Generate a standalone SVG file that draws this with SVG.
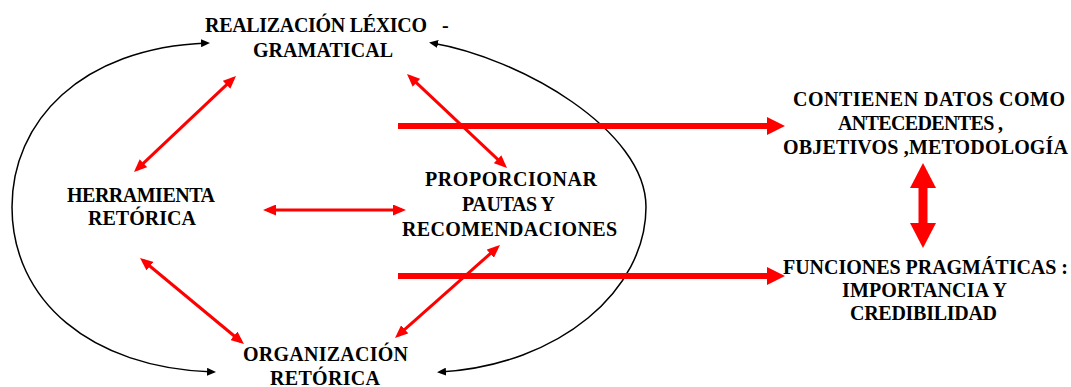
<svg xmlns="http://www.w3.org/2000/svg" width="1071" height="387" viewBox="0 0 1071 387">
<style>
text{font-family:"Liberation Serif","Times New Roman",serif;font-weight:bold;font-size:20px;fill:#000}
.m{text-anchor:middle}
.arc{fill:none;stroke:#000;stroke-width:1.5}
.red{fill:none;stroke:#ff0000;stroke-width:3}
.thick{fill:none;stroke:#ff0000;stroke-width:6}
.vert{fill:none;stroke:#ff0000;stroke-width:9}
</style>
<defs>
<marker id="bk" viewBox="0 0 9 8" refX="6" refY="4" markerWidth="9" markerHeight="8" markerUnits="userSpaceOnUse" orient="auto-start-reverse"><path d="M0,0 L9,4 L0,8 z" fill="#000"/></marker>
<marker id="rd" viewBox="0 0 13 11" refX="9" refY="5.5" markerWidth="13" markerHeight="11" markerUnits="userSpaceOnUse" orient="auto-start-reverse"><path d="M0,0 L13,5.5 L0,11 z" fill="#ff0000"/></marker>
<marker id="rt" viewBox="0 0 18 18" refX="10" refY="9" markerWidth="18" markerHeight="18" markerUnits="userSpaceOnUse" orient="auto-start-reverse"><path d="M0,0 L18,9 L0,18 z" fill="#ff0000"/></marker>
<marker id="rv" viewBox="0 0 25 26" refX="15" refY="13" markerWidth="25" markerHeight="26" markerUnits="userSpaceOnUse" orient="auto-start-reverse"><path d="M0,0 L25,13 L0,26 z" fill="#ff0000"/></marker>
</defs>
<g id="connectors">
<path class="arc" d="M207,43 C80,48 12,122 12,207 C12,300 90,368 213,372" marker-start="url(#bk)" marker-end="url(#bk)"/>
<path class="arc" d="M432,43 C520,58 646,130 646,207 C646,290 560,365 440,372" marker-start="url(#bk)" marker-end="url(#bk)"/>
<line class="red" x1="233.1" y1="78.7" x2="136.9" y2="169.3" marker-start="url(#rd)" marker-end="url(#rd)"/>
<line class="red" x1="409.9" y1="76.7" x2="504.1" y2="165.3" marker-start="url(#rd)" marker-end="url(#rd)"/>
<line class="red" x1="267" y1="210" x2="402" y2="210" marker-start="url(#rd)" marker-end="url(#rd)"/>
<line class="red" x1="143.1" y1="260.5" x2="240.9" y2="341.5" marker-start="url(#rd)" marker-end="url(#rd)"/>
<line class="red" x1="497" y1="247.7" x2="398" y2="335.3" marker-start="url(#rd)" marker-end="url(#rd)"/>
<line class="thick" x1="398" y1="126" x2="777" y2="126" marker-end="url(#rt)"/>
<line class="thick" x1="398" y1="276" x2="777" y2="276" marker-end="url(#rt)"/>
<line class="vert" x1="923" y1="173" x2="923" y2="238" marker-start="url(#rv)" marker-end="url(#rv)"/>
</g>
<g id="node-realizacion">
<text x="205" y="32"><tspan textLength="222">REALIZACIÓN LÉXICO</tspan><tspan x="442">-</tspan></text>
<text class="m" x="323" y="57" textLength="140">GRAMATICAL</text>
</g>
<g id="node-herramienta">
<text class="m" x="141" y="202" textLength="148">HERRAMIENTA</text>
<text class="m" x="142" y="224.5" textLength="108">RETÓRICA</text>
</g>
<g id="node-proporcionar">
<text class="m" x="511" y="186" textLength="172">PROPORCIONAR</text>
<text class="m" x="508.5" y="211" textLength="93">PAUTAS Y</text>
<text class="m" x="509.5" y="236" textLength="215">RECOMENDACIONES</text>
</g>
<g id="node-organizacion">
<text class="m" x="325.5" y="360.5" textLength="165">ORGANIZACIÓN</text>
<text class="m" x="325" y="385" textLength="110">RETÓRICA</text>
</g>
<g id="node-contienen">
<text class="m" x="929" y="106" textLength="272">CONTIENEN DATOS COMO</text>
<text class="m" x="920.5" y="130" textLength="165">ANTECEDENTES ,</text>
<text class="m" x="925.5" y="153.5" textLength="285">OBJETIVOS ,METODOLOGÍA</text>
</g>
<g id="node-funciones">
<text class="m" x="925.5" y="273.5" textLength="285">FUNCIONES PRAGMÁTICAS :</text>
<text class="m" x="924.5" y="297" textLength="165">IMPORTANCIA Y</text>
<text class="m" x="923.5" y="320" textLength="147">CREDIBILIDAD</text>
</g>
</svg>
